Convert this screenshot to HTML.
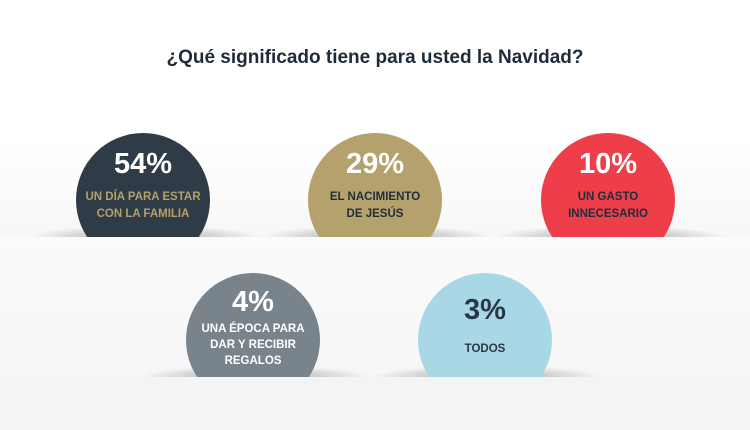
<!DOCTYPE html>
<html><head><meta charset="utf-8"><style>
body{margin:0;width:750px;height:430px;overflow:hidden;background:#fff;font-family:"Liberation Sans",sans-serif;position:relative}
.band{position:absolute;left:0;width:750px}
.h{position:absolute;left:0;width:750px;text-align:center;top:47px;font-size:19px;font-weight:bold;color:#1e2b3a}
.clip{position:absolute;overflow:hidden;width:180px}
.c{position:absolute;left:23px;top:0;width:134px;height:134px;border-radius:50%;text-align:center;font-weight:bold}
.p{font-size:29px;margin-top:14px;line-height:34px}
.l{font-size:11.5px;line-height:17px;margin-top:8px}
.shw{position:absolute;overflow:hidden;height:20px;width:240px}
.sh{position:absolute;left:0;top:8px;width:240px;height:24px;border-radius:50%;background:radial-gradient(ellipse at center,rgba(0,0,0,.35),rgba(0,0,0,0) 68%)}
</style></head><body>
<div class="band" style="top:0;height:237px;background:linear-gradient(#fff,#fff 60%,#f7f7f7)"></div>
<div class="band" style="top:237px;height:140px;background:linear-gradient(#fbfbfb,#f6f6f7)"></div>
<div class="band" style="top:377px;height:53px;background:#f3f4f5"></div>
<div class="h">¿Qué significado tiene para usted la Navidad?</div>

<div class="shw" style="left:25px;top:217px"><div class="sh"></div></div>
<div class="shw" style="left:257px;top:217px"><div class="sh"></div></div>
<div class="shw" style="left:490px;top:217px"><div class="sh"></div></div>
<div class="shw" style="left:135px;top:357px"><div class="sh"></div></div>
<div class="shw" style="left:367px;top:357px"><div class="sh"></div></div>

<div class="clip" style="left:53px;top:133px;height:104px"><div class="c" style="background:#2f3b46"><div class="p" style="color:#fff">54%</div><div class="l" style="color:#b3a06a">UN DÍA PARA ESTAR<br>CON LA FAMILIA</div></div></div>
<div class="clip" style="left:285px;top:133px;height:104px"><div class="c" style="background:#b5a16b"><div class="p" style="color:#fff">29%</div><div class="l" style="color:#1f2d3d">EL NACIMIENTO<br>DE JESÚS</div></div></div>
<div class="clip" style="left:518px;top:133px;height:104px"><div class="c" style="background:#ee3e4a"><div class="p" style="color:#fff">10%</div><div class="l" style="color:#1f2d3d">UN GASTO<br>INNECESARIO</div></div></div>
<div class="clip" style="left:163px;top:273px;height:104px"><div class="c" style="background:#78838b"><div class="p" style="color:#fff;margin-top:12px">4%</div><div class="l" style="color:#fff;margin-top:2px;line-height:16px">UNA ÉPOCA PARA<br>DAR Y RECIBIR<br>REGALOS</div></div></div>
<div class="clip" style="left:395px;top:273px;height:104px"><div class="c" style="background:#a8d8e6"><div class="p" style="color:#2a3744;margin-top:20px">3%</div><div class="l" style="color:#2a3744;margin-top:14px">TODOS</div></div></div>
</body></html>
